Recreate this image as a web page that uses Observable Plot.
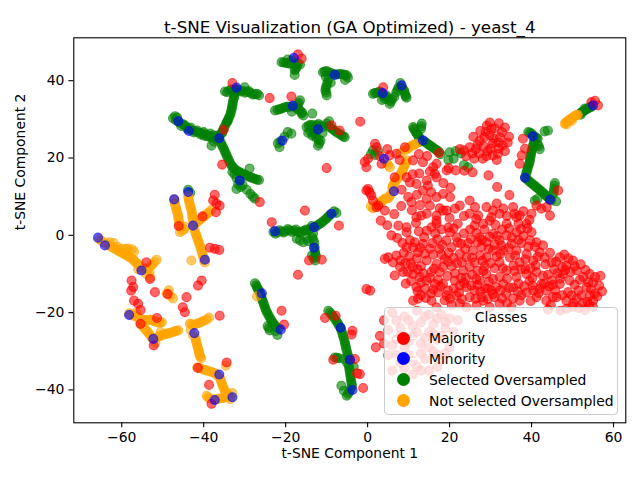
<!DOCTYPE html>
<html>
<head>
<meta charset="utf-8">
<script src="https://cdn.jsdelivr.net/npm/d3@7"></script>
<script src="https://cdn.jsdelivr.net/npm/@observablehq/plot@0.6"></script>
<style>
  body { margin: 0; background: white; }
  #wrap { position: relative; width: 640px; height: 480px; font-family: "DejaVu Sans", sans-serif; }
  #legend { position: absolute; left: 384px; top: 306.5px; width: 234px; height: 108.5px; box-sizing: border-box;
    border: 1px solid #cccccc; border-radius: 4px; background: rgba(255,255,255,0.8); font-size: 13.9px; color: #000; }
  #legend .ttl { position: absolute; left: 0; right: 0; top: 1.5px; height: 16px; line-height: 16px; text-align: center; }
  #legend .row { position: absolute; left: 0; right: 0; height: 16px; line-height: 16px; }
  #legend .ln { position: absolute; left: 8px; width: 24px; top: 7.3px; height: 1.5px; background: white; }
  #legend .mk { position: absolute; left: 11.8px; top: 1.5px; width: 13px; height: 13px; border-radius: 50%; }
  #legend .lb { position: absolute; left: 44px; top: 0; white-space: nowrap; }
</style>
</head>
<body>
<div id="wrap"></div>
<script>
const titleText = "t-SNE Visualization (GA Optimized) - yeast_4";
const xLabel = "t-SNE Component 1";
const yLabel = "t-SNE Component 2";
const legendTitle = "Classes";
const classNames = ["Majority", "Minority", "Selected Oversampled", "Not selected Oversampled"];
const xTicks = [-60, -40, -20, 0, 20, 40, 60];
const yTicks = [-40, -20, 0, 20, 40];

const majority = [
[-57.7,-14.3],[-57,-16.9],[-56,-17.7],[-55.4,-19.3],[-55.4,-22.9],[-51.4,-21.4],[-52.2,-28.5],[-51.9,-14.7],[-48.8,-15.2],[-44.2,-16],[-45.1,-18.6],[-44.6,-19.9],[-36.1,-20.8],[-41.4,-34.3],[-38.7,-38.7],[-38.1,-43.6],[-34.4,-32.9],
[-46.1,2.4],[-40.3,4.9],[-37.7,9],[-36.9,8.2],[-36.1,7.7],[-37,6],[-37.3,10.5],[-38.5,-3.2],[-37.3,-3.5],[-36.2,-3.8],[-41.4,-13],[-40.5,-11.7],[-57.6,-11.7],[-57.2,-13.4],[-54,-7],[-53.1,-11.3],
[-35.5,18.3],[-35.1,27.3],[-33,39.4],[-26.3,8.6],[-23.4,3.4],[-23.9,35.5],
[-15.3,6.4],[-7,2.5],[-14.3,-6.5],[-11.2,-6.3],[-17,-10.2],[-21,-19.5],[-20.4,-23.1],[-10.4,-21.4],[-7.8,-20.8],[-3.7,-24.7],[-3.9,-25.7],[-8.4,-32.2],[-3.1,-32],[-2.6,-35.7],[-1.9,-35.9],[-1.1,-39.5],[-0.3,-13.9],[0.6,-14.3],
[-0.3,11.6],[0.9,10.3],[2.2,7.3],[-18.6,35.9],[-17,46.8],[-16.1,45.7],[-8.8,28.4],[-6.8,27.1],[-1.8,29.4],[-10,17.4],[-0.7,19],[0.1,19.8],[-0.3,17.6],[3.8,38.3],
[1.8,23.7],[2.2,22.8],[3.4,18.5],[5.4,20.7],[7,21.1],[9.1,22.8],[0.1,12],[1.3,9],[2.6,7.7],[4.2,6.4],[9.5,15],[11.9,13.3],[14.4,14.2],[16.8,15],[13.5,11.6],[9.9,9.9],[10.7,8.6],[14.4,9.4],[16.8,9.9],[18.4,10.7],[19.3,16.8],[13.5,18.9],[16,17.6],[16.8,18.5],[11.9,4.7],[14.4,5.6],[16.8,3.8],[19.3,6.4],[9.5,2.1],[6.6,15],[11.1,19.4],[16.4,15.9],[10.3,13.7],[14.7,12.9],[20.1,9.9],[21.3,6.9],[24.9,9],[26.2,7.3],[29,7.3],[30.6,6.4],[33.1,6.9],[35.5,7.3],[36.3,4.7],[30.2,4.7],[41.2,7.7],[42.4,6.9],[43.7,7.3],[44.5,5.1],[40,5.6],[0.5,11.1],
[3,20.5],[4.8,22.3],[7.8,19.5],[12.5,21],[14.5,20.5],[15.2,16.5],[12.6,16],[11,15.8],[8.3,11.8],[12,10.5],[15.5,11.2],[18.5,13.5],[20.2,12.3],[6.5,5.5],[8.2,7.6],[3.2,3.8],[4.8,2.6],
[29.1,28.4],[31,27.6],[33.5,27.9],[29.8,25.9],[32.3,25.4],[27.4,24.5],[30.5,23.8],[33,23.3],[26.4,22.3],[29.3,21.8],[31.8,21.1],[28.1,19.8],[24.9,22.8],[22.5,22.3],[27.5,27],[25.8,25.5],[34.5,25.5],[31.5,19.5],[26,19.8],[28.8,26.8],[32,29],[30,22.5],[24,20.5],
[28.3,23],[30.8,25],[31.9,24],[28.5,25.4],[27.2,21.2],[29,20.5],[30.5,20.7],[33.5,21.8],[32.8,26.7],[30.2,27.5],[26.8,23.5],[25.5,21.2],[23.5,22],[32,22.5],[34.2,24],[29.8,29.2],
[19.8,17.4],[21.5,16.8],[23.6,16.7],[25.6,16.3],[37.9,25],[38.4,22.4],[37.6,20.7],[37.1,18.5],[46.5,11.6],[54.6,34.5],[56.2,33.6],[55.5,34.8],[17.4,21.3],[29.5,15.5],[31.6,12.5],[34.6,10.4],
[5.8,0],[4.2,-6.1],[5,-5.7],[6.2,-7],[7,-5.2],[7.9,-8.2],[6.6,-10.4],[8.7,-9.5],
[9.5,0.8],[10.3,-1.3],[11.1,-3.1],[9.5,-3.1],[12.3,-4.4],[13.5,-2.2],[14,-4.8],[15.2,-3.5],[14.4,-6.5],
[13.1,5.1],[16.8,3],[15.6,2.1],[14.4,1.2],
[11.1,-10],[12.7,-10.8],[14.4,-11.7],[11.9,-13.4],[14,-13.8],[16.4,-12.6],[17.6,-9.5],[18.4,-8.2],[16.8,-7.4],[18.8,-6.1],
[19.2,-1.3],[20.5,-3.1],[21.7,-0.5],[20.1,0.8],[22.5,-4.8],[24.1,-5.7],[25.7,-3.9],[24.9,-8.2],[23.3,-9.1],[26.1,-7],
[18.4,-12.6],[19.6,-14.3],[21.3,-11.7],[22.5,-13],[21.7,-15.6],[24.1,-13.4],[24.9,-16],[26.1,-14.3],
[27.4,-11.7],[29,-10],[30.6,-11.3],[32.2,-10.8],[28.6,-13.8],[30.2,-14.3],[31.4,-13.4],[33.1,-12.6],
[24.9,5.6],[27,5.1],[26.1,2.5],[28.2,3],[29.8,3.8],[32.2,5.6],[33.9,3],[37.1,5.1],[38.8,3],[40,0.8],[36.3,0.8],
[27.4,-0.5],[29,-1.8],[30.6,0.4],[32.2,-1.3],[33.9,0],[35.1,-2.2],[36.3,-3.9],[33.1,-3.9],[30.6,-3.9],[29,-5.7],[32.2,-7],[34.7,-5.7],[37.1,-7],[38.8,-4.8],[40.4,-6.5],[42,-4.4],[39.6,-1.3],
[33.9,-9.1],[36.3,-10.8],[38.8,-10],[41.2,-9.5],[42.4,-12.6],
[44.9,-7],[46.9,-5.7],[48.5,-7.8],[50.1,-6.5],[47.7,-10],[49.3,-11.7],[51,-9.1],[52.6,-10.8],[54.2,-10],[55,-12.2],[53.4,-13.4],[51.4,-14.3],[48.9,-14.7],[46.9,-12.6],[44.9,-11.7],[43.6,-14.3],[42,-13.8],[40.4,-14.3],[41.2,-16],[43.6,-16.9],[46.1,-16],[48.5,-16.9],[51,-16.4],[54.2,-15.6],[55.4,-15.1],[55,-16.9],
[11.1,-16.9],[12.3,-16.4],[15.6,-16.9],[16.8,-18.6],[20.1,-16.4],[22.5,-17.7],[26.6,-18.1],[28.2,-16.9],[29.8,-18.6],[32.2,-17.7],[35.1,-18.6],[37.1,-16.9],[24.1,-18.6],
[15.2,7.7],[18.4,6.4],[22.5,7.7],[16.8,5.1],
[12,-6],[13,-8],[15.5,-9.5],[16,-5],[17,-1],[18,1.5],[17.5,-3.5],[19.5,-10.5],[20.5,-8],[21,-5.8],[22.8,-2.2],[23.5,0.5],[24,-11],[25.5,-10.2],[26.8,-9.2],[27.5,-5.2],[28.5,-8],[29.5,-3.5],[31,-8.5],[31.5,-5.5],[32.8,1.5],[34.5,1.8],[35.6,-7.8],[37.5,-2],[38.5,-8.7],[40.8,-3],[43.4,-7.5],
[13,-15.5],[15.5,-15],[17.2,-14.8],[18.8,-16.8],[20.5,-18],[23,-16.5],[26.8,-12.8],[27.8,-16],[29.3,-16.5],[31,-16],[33.8,-15],[35.5,-13.5],[36.8,-12.5],[38.2,-13.2],[39.5,-11.8],[37.5,-15.5],[34,-17.5],[39.8,-17],
[45.5,-8.8],[47.5,-8.2],[49.5,-9.5],[52,-7.5],[53.8,-12.2],[50.5,-12.8],[45.8,-14.2],[44,-10.2],[52.5,-17.5],[56.5,-13],[56.8,-10.5],[48,-5],[44.5,-4.5],
[10.2,-5.5],[8.5,-2],[12.5,1],[11.8,3.2],[7.5,2.5],[26.8,-1.8],[25,1.5],[22,3],[28.5,1.5],[31.2,2.7],[36.8,3],[39.5,4],[38,-0.2],[11,-8.2],[9.3,-12.5],[13,-12.3],
[10.8,6.5],[12.8,7.8],[17.6,7],[20,4.5],[23.5,5],[26.5,4.2],[31.5,8.2],[34,5],[35.8,5.6],[38,6.2],
[10.5,-7.2],[12.2,-8.8],[13.6,-9.9],[15.2,-11],[16.2,-8.6],[17.2,-11.5],[18,-5],[19.6,-6.8],[19.8,-4.5],[21.8,-7.2],[21.3,-9.8],[22.8,-11],[23,-7],[24.5,-2],[25.5,-5.8],[26.5,-11.3],[27.8,-3],[28,-6.6],[28.2,-9.2],[29.6,-12],[30,-7.2],[31,-2.5],[32.4,-4.8],[33,-8.5],[34,-11.2],[34.5,-13.6],[35.8,-9.2],[36,-5.2],[37.5,-8.8],[38.5,-6.2],[39.8,-8.5],[40.2,-11],[41,-7.8],[42.8,-10.5],[43.2,-5.8],
[12.2,-14.5],[14.2,-16.2],[16,-14],[17.8,-13.2],[19.3,-15.6],[21,-13.8],[22.3,-14.8],[23.5,-12.3],[25.3,-13],[26.3,-16.4],[27.5,-14.5],[29.2,-13.8],[30.6,-15.2],[32.4,-14.2],[32.8,-16.3],[35.5,-16.3],[36.6,-14.5],[38.8,-14.8],[40.2,-13],[41.7,-15],[43,-12.5],[44.3,-13.2],[45.2,-16],
[11.5,-1.8],[12.8,-3.2],[13.8,-0.5],[15.8,-2],[16.5,0.5],[18.2,-2.5],[19.7,2],[21,1.8],[22,-1.8],[23.8,-3.5],[25.2,-1],[26.5,0.6],[27.9,-1.2],[29.8,-0.4],[31.6,-0.2],[32.6,-2.6],[34.4,-3.2],[35.2,-0.6],[36.8,-1.2],[37.4,1.6],[39,1.8],[39.2,-3],[41.2,-1.8],[42.8,-2.6],[41.5,-5.5],
[46.3,-9.8],[48.2,-9],[50.5,-8],[51.8,-11.5],[53.2,-9],[55.5,-10.8],[54.5,-14],[52.2,-15.5],[49.8,-15.5],[47.5,-15.5],[47,-11.2],[45.2,-12.8],[46,-6.8],[49,-6],[57.2,-14.5],[56,-15.8],[53.6,-17.2],[50.2,-17.6],
[8,-6.5],[9.2,-7.2],[9.8,-9.5],[8.8,-4.5],[7.2,-0.7],[10.6,-11.8],
[4,-22],[6,-20],[8,-24],[10,-22],[12,-19.5],[14,-21],[16,-23],[18,-20.5],[7,-27],[9,-29],[11,-26],[13,-28],[15,-25],[17,-27],[19,-24],[5,-31],[8,-33],[10,-31],[12,-34],[14,-32],[16,-30],[18,-32],[20,-29],[11,-36],[15,-35],[3,-26],[20,-21.5],[2,-29],[6,-35],[47,-19.5],[50,-18.5],[53,-19.3],[55,-18.5],[44,-19.2],
[5,-24.5],[7,-22],[9,-21],[11,-23.5],[13,-22.5],[15,-20.5],[17,-21.5],[19,-22.5],[6,-28.5],[8,-26],[10,-27.5],[12,-25],[14,-26.5],[16,-25.5],[18,-26],[4,-28],[7,-31],[9,-34.5],[11,-32.5],[13,-30.5],[15,-29],[17,-31],[19,-30.5],[13,-35],[17,-34],[9,-37],[21,-25],[22,-22],[44.7,-18],[48.5,-19],[51.5,-18.8],[54,-18]
];

const minority = [
[-65.8,-0.6],[-64.1,-2.6],[-55.2,-9.1],[-58.2,-20.6],[-52.3,-26.8],[-42.3,-25.3],[-36.2,-36],[-37.3,-42.6],[-33,-41.9],
[-47.2,9.3],[-43.8,11.2],[-42.6,2.5],[-39.7,-6.3],[-46.2,29.5],[-43.6,27],[-36.2,25.1],[-32,38.2],[-31.2,14.2],
[-22.6,1.1],[-13.1,2.1],[-8.8,5.6],[-13.1,-3.2],[-25.8,-15],[-21.2,-24.4],[-6.6,-23.9],[-4.3,-32.2],[-3.7,-40],
[-18,45.9],[-8,41.5],[-18.3,33.5],[-12.1,27.4],[-20.8,24.5],[3.7,36.8],[8.3,38.8],[4,19.8],[6.4,11.4],[13.5,24.6],
[40.3,25.6],[38.4,14.9],[44.5,9.2],[55,33.6]
];

const selectedOversampled = [
[-47.5,30.3],[-46.8,29.8],[-46,29.2],[-45.2,28.8],[-44.4,28.2],[-43.6,27.6],[-42.8,27.2],[-42,26.9],[-41.2,26.6],[-40.4,26.4],[-39.6,26.1],[-38.8,25.8],[-38,25.5],[-37.2,25.3],[-36.4,25],[-46.5,30.5],[-44,27.5],[-40,25.8],[-38.4,26.3],[-38.1,23.2],[-37.5,24.2],[-35.5,26.5],
[-47,30.8],[-46.2,29.6],[-45.5,28.3],[-44.8,28.6],[-43.2,27.9],[-42.4,26.6],[-41.6,27.1],[-40.8,26.1],[-40,26.7],[-39.2,25.6],[-38.4,25.4],[-37.6,25.9],[-36.8,24.8],[-36.6,25.8],
[-35.8,26.2],[-35.2,27.5],[-34.6,28.8],[-34,30],[-33.5,31.2],[-33.2,32.5],[-33,33.7],[-32.8,35],[-32.5,36.2],[-32.2,37.3],[-34.2,29.5],
[-35.5,26.8],[-34.9,28.1],[-34.3,29.4],[-33.8,30.6],[-33.4,31.8],[-33.1,33.1],[-32.9,34.3],[-32.6,35.6],[-32.4,36.8],
[-34.8,37.2],[-33.8,37.4],[-32.8,37.5],[-31.5,37.6],[-30.5,37.4],[-29.5,37.1],[-28.5,36.8],[-27.5,36.5],[-26.5,36.2],[-30,38.3],
[-34.3,37],[-33.3,37.8],[-32,37.8],[-31,37.2],[-30,36.9],[-29,37.3],[-28,36.4],[-27,36.6],
[-35.8,24],[-35.3,22.8],[-34.8,21.6],[-34.3,20.4],[-33.8,19.2],[-33.2,18],[-32.5,17.2],[-31.5,16.5],[-30.5,16],[-29.5,15.4],[-28.5,15],[-27.5,14.6],[-26.5,14.3],[-32.5,15.8],[-32,14.8],[-31.2,14.2],[-32,12],[-30.5,13],[-28,10],[-28.8,17.3],[-27.5,9.5],
[-35.6,23.4],[-35,22.2],[-34.5,21],[-34,19.8],[-33.5,18.6],[-32.8,17.6],[-32,16.8],[-31,16.2],[-30,15.7],[-29,15.2],[-28,14.8],[-27,14.4],[-31.6,13.2],[-31,12.5],[-29.5,11.8],[-28.6,10.7],[-33,16.4],
[-21,44.8],[-20,44.6],[-19,44.4],[-18.5,45.3],[-17.8,42.7],[-17.3,43.5],[-17,44.5],[-19.5,45.5],[-16.5,44.2],[-17.8,41.5],
[-20.5,44.7],[-19.5,44.5],[-18.5,44.6],[-17.5,44],[-17.6,43],
[-10.9,42.2],[-10,42.5],[-9,42],[-7,41.7],[-6,41.6],[-5.1,41.4],[-5.5,40.2],[-9.5,40.5],[-10,38.8],[-10.3,37.5],[-10,36.2],[-9,39.5],[-4.8,40.8],
[-10.5,42.4],[-9.5,42.2],[-8.5,41.8],[-7.5,41.6],[-6.5,41.7],[-5.6,41.5],[-10.2,41],[-9.8,39.6],[-10.2,38.2],[-10.1,36.9],
[-22.6,32.3],[-21.5,32.6],[-20.5,33],[-19.5,33.3],[-17.5,33],[-16.5,32.3],[-15.7,31],[-16.5,34.9],[-17,33.8],[-18.5,32],[-16,31.8],
[-22,32.5],[-21,32.8],[-20,33.2],[-19,33.2],[-18,33.4],[-17,32.6],[-16.1,31.5],[-16.8,34.3],
[-13.5,31.5],[-14.9,28],[-14,28.6],[-13,28.2],[-12,28.8],[-11,28],[-14.5,26.5],[-13.5,25.8],[-12.5,25.2],[-11.5,24.5],[-12.1,23.2],[-10,28.9],[-9,27.8],[-8,27],[-7,26.3],[-6,25.6],[-5.6,25.4],[-13,26.8],[-11,26.5],[-9.4,29.5],
[-14.4,28.3],[-13.5,28.5],[-12.5,28.5],[-11.5,28.4],[-14,27],[-13,26],[-12,24.8],[-11.8,23.8],[-9.5,28.3],[-8.5,27.4],[-7.5,26.6],[-6.5,26],[-12.5,27],
[-21.9,23.8],[-21.3,24.3],[-20.3,25.5],[-19.5,26.7],[-21.5,22.8],[-18.6,26.3],
[1.3,36.6],[2.2,36.9],[3,37.2],[4.5,36.2],[5.4,35],[5.4,34],[6,35.2],[7,37],[7.5,38.2],[8.5,38],[9,37],[9.5,35.6],[9.2,36.3],[8,39.4],[4.2,35.3],[3.5,35],
[1.8,36.8],[2.6,37],[3.4,36.7],[4.9,35.6],[5.7,34.6],[6.5,35.8],[7.3,37.6],[8,38.3],[8.9,37.5],[9.3,36],[4,36],
[11.1,28],[11.5,27.2],[12,26.3],[12.6,25.5],[13.2,28.9],[13,27.5],[14.2,24],[15,23.4],[15.8,22.8],[16.6,22.2],[17.4,21.6],[17.8,21],[12.5,24.7],
[11.3,27.6],[11.8,26.7],[12.3,25.9],[13.8,24.3],[14.6,23.7],[15.4,23.1],[16.2,22.5],[17,21.9],[13.1,28.2],[12.8,24.2],
[1.3,22],[2.5,21.8],[0.8,21],[1.8,20.8],
[20,21.5],[21.5,21.8],[22.8,21.2],[19.7,19.5],[21,19.8],[23.5,18.2],[24.5,17.6],
[39.2,26.7],[40,26.3],[40.8,25.5],[41.5,25],[40.6,24.2],[40.3,23],[40,21.8],[39.8,20.6],[39.6,19.4],[39.3,18.2],[39,17],[38.7,16],[38.4,15],[39.2,14.2],[40,13.5],[40.8,12.8],[41.6,12.1],[42.4,11.4],[43.2,10.6],[44,9.8],[44.8,9],[45.2,10.5],[45.5,12],[45.7,13.5],[40.8,9],[41.4,9.4],[46,8.8],[43.2,26.9],[44,27.1],[41.5,23.5],[42,22.3],
[39.6,26.5],[40.4,25.9],[41.2,25.2],[40.5,23.6],[40.2,22.4],[39.9,21.2],[39.7,20],[39.5,18.8],[39.1,17.6],[38.8,16.5],[38.8,14.6],[39.6,13.8],[40.4,13.1],[41.2,12.4],[42,11.7],[42.8,11],[43.6,10.2],[44.4,9.4],[45.4,11.2],[45.6,12.8],[41.8,23],
[51.8,31.5],[52.5,32],[53.3,32.5],[54,33],[54.6,33.3],[52,31.2],[53,32.8],
[52.2,31.8],[52.9,32.3],[53.6,32.8],[54.3,33.1],
[-43.8,11.8],[-43.3,11],
[-23,0.9],[-22,0.8],[-21,1],[-20,1.1],[-19,1.3],[-18,1.2],[-17,0.9],[-16,1],[-15,1.5],[-14,1.8],[-12.2,2.6],[-11.3,3.2],[-10.4,4],[-9.6,4.8],[-8.2,6.2],[-7.6,5.8],[-17.3,-0.9],[-15.7,-1.8],[-14.5,-1.5],[-13.5,-0.5],[-13.3,0.5],[-13,-2],[-12.8,-4.3],[-12.6,-5.5],[-12.8,-6.5],[-13.6,-5.2],
[-22.5,0.4],[-21.5,1.3],[-20.5,0.7],[-19.5,1.6],[-18.5,0.9],[-17.5,1.5],[-16.5,0.6],[-15.5,1.2],[-14.5,1.2],[-13.6,2.4],[-12.7,2.2],[-11.8,2.9],[-10.9,3.6],[-10,4.4],[-9.2,5.3],[-16.5,-1.3],[-14.8,-0.8],[-13.2,-1.2],[-12.9,-3.2],[-12.7,-5],[-13.2,-6],
[-27.5,-12.4],[-27,-13.4],[-26.5,-14.2],[-26,-15.8],[-25.6,-17],[-25.2,-18.2],[-24.8,-19.4],[-24.2,-20.6],[-23.6,-21.8],[-23,-22.8],[-22.4,-23.6],[-21.7,-24.1],[-23.9,-24.6],[-22,-25.8],[-24.4,-23.5],
[-27.2,-12.9],[-26.8,-13.9],[-26.2,-15],[-25.8,-16.4],[-25.4,-17.6],[-25,-18.8],[-24.5,-20],[-23.9,-21.2],[-23.3,-22.3],[-22.7,-23.2],[-24.1,-24],[-22.5,-24.8],
[-9.6,-19.5],[-8.8,-20.5],[-8,-21.6],[-7.3,-22.7],[-6.6,-23.9],[-6.2,-25.3],[-5.8,-26.7],[-5.5,-28.1],[-5.2,-29.5],[-4.8,-31],[-4.3,-32.2],[-4.6,-33.6],[-4.4,-35],[-4.2,-36.4],[-4,-37.8],[-3.8,-39],[-4.5,-40.5],[-5.1,-41.5],[-6.4,-38.9],[-8,-31.6],[-7,-31.8],[-5.8,-32],[-3.4,-34],
[-9.2,-20],[-8.4,-21],[-7.6,-22.2],[-7,-23.3],[-6.4,-24.6],[-6,-26],[-5.6,-27.4],[-5.3,-28.8],[-5,-30.2],[-4.6,-31.6],[-4.5,-34.3],[-4.3,-35.7],[-4.1,-37.1],[-3.9,-38.4],[-4.2,-39.8],[-4.8,-41],[-5.8,-40.2],[-7.5,-31.7],[-5,-33]
];

const notSelectedOversampled = [
[-65.5,-1],[-64.5,-1.8],[-63.5,-2.4],[-62.5,-3],[-61.5,-3.6],[-60.5,-4.2],[-59.5,-4.8],[-58.5,-5.4],[-57.5,-6],[-56.8,-6.8],[-56,-7.5],[-55.4,-8.3],[-54.5,-8.8],[-53.5,-8.5],[-52.5,-7.5],[-51.5,-6.3],[-58.5,-3.4],[-57.5,-3.6],[-60,-3.5],[-54,-10],[-53.2,-9.5],[-62,-2],[-59,-4.2],[-56,-8.8],[-53.1,-10.8],
[-65,-1.4],[-64,-2.1],[-63,-2.7],[-62,-3.3],[-61,-3.9],[-60,-4.5],[-59,-5.1],[-58,-5.7],[-57.1,-6.4],[-56.4,-7.1],[-55.7,-7.9],[-55,-8.6],[-54,-8.6],[-53,-8],[-52,-6.9],[-59,-3.5],[-61,-3],[-63,-1.8],[-57,-4.2],
[-47.2,9.3],[-47,8.2],[-46.7,7],[-46.4,5.8],[-46.2,4.6],[-46,3.4],[-45.8,2.2],[-45.8,0.8],[-44.8,1.5],[-43.8,10.2],[-43.6,9],[-43.3,7.8],[-43,6.6],[-42.8,5.4],[-42.7,4],[-42.6,2.5],[-41.8,3.3],[-41,4],[-40.2,4.7],[-39.4,5.4],[-38.6,6],[-38.1,6.6],[-42.2,1.3],[-41.8,0],[-41.4,-1.2],[-41,-2.4],[-40.6,-3.6],[-40.3,-4.8],[-40,-6],[-39.7,-7],[-43,-6.5],[-44.5,2.2],
[-47.1,8.8],[-46.9,7.6],[-46.6,6.4],[-46.3,5.2],[-46.1,4],[-45.9,2.8],[-45.3,1.2],[-43.7,9.6],[-43.5,8.4],[-43.2,7.2],[-42.9,6],[-42.8,4.7],[-42.2,2.9],[-41.4,3.6],[-40.6,4.3],[-39.8,5],[-39,5.7],[-42,0.6],[-41.6,-0.6],[-41.2,-1.8],[-40.8,-3],[-40.5,-4.2],[-40.2,-5.4],[-39.9,-6.5],
[-49,-15],[-48.2,-15.6],[-47.5,-16.3],[-48.5,-14.2],
[-58.2,-20.2],[-57.2,-20.8],[-56,-21.3],[-55,-21.8],[-54,-22],[-53,-21.8],[-52,-22.3],[-51,-22.6],[-50.2,-22.5],[-56.5,-20],[-55.5,-22.8],[-54.5,-24],[-53.7,-25],[-53,-26],[-52.3,-26.8],[-51,-26.2],[-50,-25.8],[-49,-25.5],[-48,-25.2],[-47,-24.8],[-46.2,-24.6],[-50.5,-25],[-51.8,-27.8],
[-57.7,-20.5],[-56.6,-21],[-55.5,-21.5],[-54.5,-21.9],[-53.5,-21.9],[-52.5,-22],[-51.5,-22.4],[-50.6,-22.6],[-55,-23.4],[-54.1,-24.5],[-53.3,-25.5],[-52.7,-26.4],[-51.6,-26.5],[-50.5,-26],[-49.5,-25.6],[-48.5,-25.3],[-47.5,-25],[-46.6,-24.7],
[-43.4,-22.8],[-42.5,-23.3],[-41.5,-22.8],[-40.5,-22.4],[-39.3,-21.8],[-38.7,-21.3],[-43.2,-24.5],[-42,-26.5],[-41.8,-27.7],[-41.5,-28.9],[-41.2,-30],[-41,-31],[-40.6,-31.8],[-41.6,-34.2],[-40.5,-34.5],[-39.3,-35],[-38,-35.4],[-37,-35.8],[-36,-37],[-35.6,-38.2],[-35.2,-39.4],[-34.7,-40.5],[-34,-41.3],[-33.5,-42.4],[-39.3,-41.5],[-38.6,-42.2],[-37,-42.4],[-36,-42.2],[-35,-42],[-33,-40.8],[-34.6,-33.7],
[-43,-23],[-42,-23],[-41,-22.6],[-40,-22.1],[-42.6,-25.9],[-41.9,-27.1],[-41.6,-28.3],[-41.3,-29.4],[-41.1,-30.5],[-40.8,-31.4],[-41,-34.4],[-39.9,-34.8],[-38.6,-35.2],[-37.5,-35.6],[-36.5,-36.4],[-35.8,-37.6],[-35.4,-38.8],[-34.9,-40],[-34.3,-40.9],[-33.7,-41.9],[-38.9,-41.9],[-37.8,-42.4],[-36.5,-42.3],[-35.5,-42.1],[-34.5,-41.8],
[-27,-15.8],
[11.9,23.7],[11,23.3],[10,22.6],[9.1,22],[9.5,19.4],[9.2,18.4],[8.7,17.2],[8.2,16],[7.5,15],[6.8,14],[6.2,13],[6,12],[6.4,11.4],[5.6,10.5],[5,9.6],[4.2,9.5],[3.5,8.8],[2.8,8.2],[2,7.5],[1.3,7],[5.4,17.6],[4.6,18.8],[8,21.3],[0.8,7.5],
[11.4,23.5],[10.5,23],[9.6,22.3],[9.4,18.9],[8.9,17.8],[8.4,16.6],[7.8,15.5],[7.1,14.5],[6.5,13.5],[6.1,12.5],[5.3,10],[4.6,9.5],[3.8,9.1],[3.1,8.5],[2.4,7.8],[1.6,7.2],[5,18.2],
[48.1,28.9],[48.7,29.5],[49.4,30],[50.1,30.5],[50.8,31],[51.3,31.2],[48.5,28.7],[49.8,29.6],
[48.4,29.2],[49.1,29.8],[49.7,30.2],[50.4,30.8],[51,31.1]
];

const colors = ["#ff0000", "#0000ff", "#008000", "#ffa500"];
const dotStyle = c => ({x: d => d[0], y: d => d[1], r: 4.5, fill: c, fillOpacity: 0.6, stroke: c, strokeOpacity: 0.6, strokeWidth: 1.1});

const chart = Plot.plot({
  width: 640,
  height: 480,
  marginLeft: 73.3,
  marginRight: 14.7,
  marginTop: 37.3,
  marginBottom: 57.7,
  x: {domain: [-71.7, 63.0]},
  y: {domain: [-48.5, 51.1]},
  style: {fontFamily: "'DejaVu Sans', sans-serif", fontSize: "13.9px", background: "white", color: "black"},
  marks: [
    Plot.dot(selectedOversampled, dotStyle(colors[2])),
    Plot.dot(notSelectedOversampled, dotStyle(colors[3])),
    Plot.dot(majority, dotStyle(colors[0])),
    Plot.dot(minority, dotStyle(colors[1])),
    Plot.frame({stroke: "black", strokeWidth: 1.1}),
    Plot.axisX({ticks: xTicks, tickSize: 4.9, tickPadding: 4.5, label: null, fontSize: 13.9, strokeWidth: 1.1}),
    Plot.axisY({ticks: yTicks, tickSize: 4.9, tickPadding: 4.5, label: null, fontSize: 13.9, strokeWidth: 1.1}),
    Plot.text([xLabel], {frameAnchor: "bottom", dy: 35, text: d => d, fontSize: 13.9}),
    Plot.text([yLabel], {frameAnchor: "left", dx: -53, rotate: -90, text: d => d, fontSize: 13.9}),
    Plot.text([titleText], {frameAnchor: "top", dy: -17, text: d => d, fontSize: 16.7})
  ]
});

const wrap = document.getElementById("wrap");
wrap.appendChild(chart);

const legend = document.createElement("div");
legend.id = "legend";
const ttl = document.createElement("div");
ttl.className = "ttl";
ttl.textContent = legendTitle;
legend.appendChild(ttl);
const rowCenters = [31.8, 52.4, 73.3, 94.0];
classNames.forEach((name, i) => {
  const row = document.createElement("div");
  row.className = "row";
  row.style.top = (rowCenters[i] - 8 - 1) + "px";
  if (i < 2) {
    const ln = document.createElement("div");
    ln.className = "ln";
    row.appendChild(ln);
  }
  const mk = document.createElement("div");
  mk.className = "mk";
  mk.style.background = colors[i];
  row.appendChild(mk);
  const lb = document.createElement("div");
  lb.className = "lb";
  lb.textContent = name;
  row.appendChild(lb);
  legend.appendChild(row);
});
wrap.appendChild(legend);
</script>
</body>
</html>
